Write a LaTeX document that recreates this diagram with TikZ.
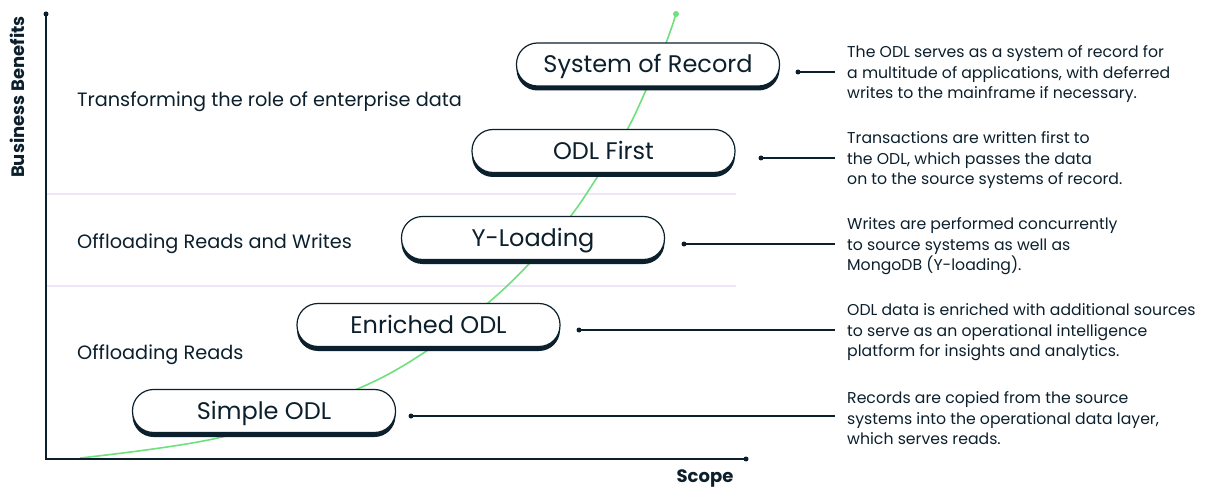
\documentclass[tikz,border=0pt]{standalone}
\usepackage{fontspec}
\setmainfont{Poppins}
\usetikzlibrary{shadows}
\definecolor{ink}{HTML}{0B1F2C}
\definecolor{leaf}{HTML}{6FE07C}
\definecolor{rule}{HTML}{EEE5F8}
\tikzset{
  pill/.style={draw=ink, line width=1.2pt, fill=white, rounded corners=21pt,
    minimum width=263pt, minimum height=43pt, inner sep=0pt, text=ink,
    text height=19.5pt, text depth=3pt,
    font=\fontsize{24}{28}\selectfont,
    general shadow={fill=ink, shadow xshift=0pt, shadow yshift=-4.5pt}},
  desc/.style={anchor=west, align=left, inner xsep=12pt, inner ysep=0pt,
    text=ink, font=\fontsize{15.7}{20.5}\selectfont},
  zone/.style={anchor=west, inner sep=0pt, text=ink, font=\fontsize{19.3}{23}\selectfont},
  axistitle/.style={inner sep=0pt, text=ink, font=\fontsize{18}{21}\selectfont\bfseries},
  knob/.style={circle, fill=ink, inner sep=0pt, minimum size=5pt},
  wire/.style={draw=ink, line width=1.5pt},
  axisline/.style={draw=ink, line width=2pt},
}
\begin{document}
\begin{tikzpicture}[x=1pt, y=-1pt]
  \useasboundingbox (0,0) rectangle (1208,492);

  % band separators
  \draw[rule, line width=1.5pt] (47,194) -- (736,194);
  \draw[rule, line width=1.5pt] (47,286) -- (736,286);

  % growth curve
  \draw[leaf, line width=1.6pt] plot[smooth, tension=0.55] coordinates {
    (80,458) (222,437) (355,390) (425,352) (488,303) (528,265)
    (570,217) (598,176) (627,130) (646,90) (666,43) (676,14)};
  \node[circle, fill=leaf, inner sep=0pt, minimum size=6pt] (tip) at (676,14) {};

  % axes
  \node[knob] (ytop) at (46,14) {};
  \node[knob] (xend) at (746,459) {};
  \coordinate (origin) at (46,459);
  \draw[axisline] (ytop.center) -- (origin) -- (xend.center);
  \node[axistitle] (xt) at (705,478) {Scope};
  \node[axistitle, rotate=90] (yt) at (17,97) {Business Benefits};

  % band titles
  \node[zone] (z3) at (77,102) {Transforming the role of enterprise data};
  \node[zone] (z2) at (77,244) {Offloading Reads and Writes};
  \node[zone] (z1) at (77,355) {Offloading Reads};

  % stages
  \node[pill] (p5) at (648,64.5) {System of Record};
  \node[pill] (p4) at (603.5,151) {ODL First};
  \node[pill] (p3) at (533,238) {Y-Loading};
  \node[pill] (p2) at (428.5,325) {Enriched ODL};
  \node[pill] (p1) at (264,411) {Simple ODL};

  % descriptions
  \node[desc] (t5) at (835,74.5) {The ODL serves as a system of record for\\a multitude of applications, with deferred\\writes to the mainframe if necessary.};
  \node[desc] (t4) at (835,160.5) {Transactions are written first to\\the ODL, which passes the data\\on to the source systems of record.};
  \node[desc] (t3) at (835,246.5) {Writes are performed concurrently\\to source systems as well as\\MongoDB (Y-loading).};
  \node[desc] (t2) at (835,332.5) {ODL data is enriched with additional sources\\to serve as an operational intelligence\\platform for insights and analytics.};
  \node[desc] (t1) at (835,418.5) {Records are copied from the source\\systems into the operational data layer,\\which serves reads.};

  % connectors
  \node[knob] (d5) at (798,72) {};
  \node[knob] (d4) at (761,158) {};
  \node[knob] (d3) at (684,244) {};
  \node[knob] (d2) at (579,330) {};
  \node[knob] (d1) at (411,416) {};
  \draw[wire] (d5.center) -- (d5.center -| t5.west);
  \draw[wire] (d4.center) -- (d4.center -| t4.west);
  \draw[wire] (d3.center) -- (d3.center -| t3.west);
  \draw[wire] (d2.center) -- (d2.center -| t2.west);
  \draw[wire] (d1.center) -- (d1.center -| t1.west);
\end{tikzpicture}
\end{document}
